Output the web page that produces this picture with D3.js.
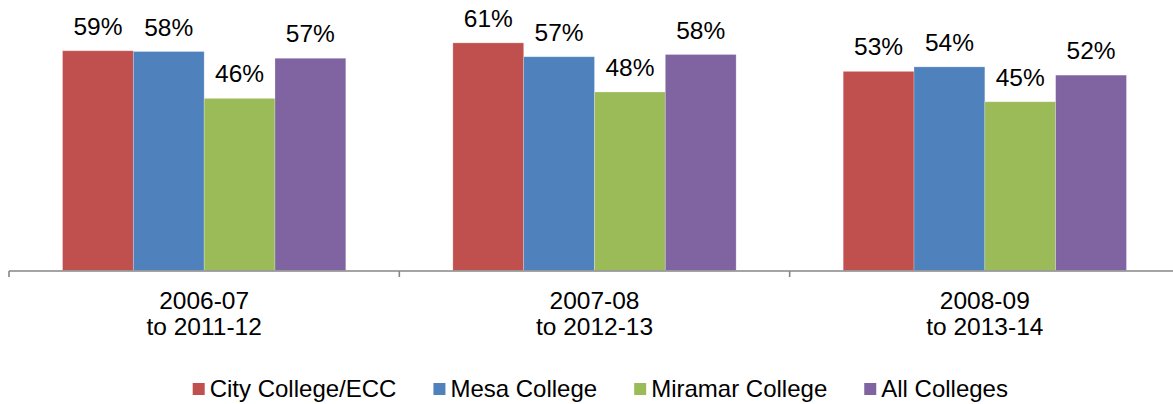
<!DOCTYPE html>
<html>
<head>
<meta charset="utf-8">
<script src="https://cdn.jsdelivr.net/npm/d3@7"></script>
<style>
  body { margin: 0; background: #fff; }
  svg { display: block; font-family: "Liberation Sans", Arial, sans-serif; }
</style>
</head>
<body>
<div id="chart"></div>
<script>
// data
var categories = ["2006-07|to 2011-12", "2007-08|to 2012-13", "2008-09|to 2013-14"];
var seriesNames = ["City College/ECC", "Mesa College", "Miramar College", "All Colleges"];
var cityValues = [0.586, 0.607, 0.531];
var mesaValues = [0.584, 0.570, 0.543];
var miramarValues = [0.459, 0.476, 0.450];
var allValues = [0.566, 0.576, 0.521];
var colors = ["#C0504D", "#4F81BD", "#9BBB59", "#8064A2"];

var values = [cityValues, mesaValues, miramarValues, allValues];

var width = 1173, height = 404;
var svg = d3.select("#chart").append("svg")
    .attr("width", width)
    .attr("height", height);

var baseY = 270.5;

var x0 = d3.scaleBand()
    .domain(categories)
    .range([9, 1180])
    .padding(0);

var x1 = d3.scaleBand()
    .domain(seriesNames)
    .range([0, x0.bandwidth()])
    .paddingInner(0)
    .paddingOuter(0.756);

var y = d3.scaleLinear()
    .domain([0, 1])
    .range([baseY, baseY - 375]);

// flatten into rows for drawing
var rows = [];
categories.forEach(function (c, i) {
    seriesNames.forEach(function (s, j) {
        rows.push({ cat: c, series: s, value: values[j][i], color: colors[j] });
    });
});

svg.selectAll("rect.bar")
    .data(rows)
    .enter()
    .append("rect")
    .attr("class", "bar")
    .attr("x", function (d) { return x0(d.cat) + x1(d.series); })
    .attr("y", function (d) { return y(d.value); })
    .attr("width", x1.bandwidth())
    .attr("height", function (d) { return baseY - y(d.value); })
    .attr("fill", function (d) { return d.color; })
    .attr("stroke", "#fff")
    .attr("stroke-opacity", 0.3)
    .attr("stroke-width", 0.8);

svg.selectAll("text.lbl")
    .data(rows)
    .enter()
    .append("text")
    .attr("class", "lbl")
    .attr("x", function (d) { return x0(d.cat) + x1(d.series) + x1.bandwidth() / 2; })
    .attr("y", function (d) { return y(d.value) - 16; })
    .attr("text-anchor", "middle")
    .attr("font-size", 24.5)
    .attr("fill", "#000")
    .text(function (d) { return d3.format(".0%")(d.value); });

// x axis
var xAxis = svg.append("g");
xAxis.append("line")
    .attr("x1", 9).attr("x2", width)
    .attr("y1", 271).attr("y2", 271)
    .attr("stroke", "#868686")
    .attr("stroke-width", 1.6);

var tickXs = categories.map(function (c) { return x0(c); }).concat([x0.range()[1]]);
xAxis.selectAll("line.tick")
    .data(tickXs)
    .enter()
    .append("line")
    .attr("class", "tick")
    .attr("x1", function (d) { return d; })
    .attr("x2", function (d) { return d; })
    .attr("y1", 271)
    .attr("y2", 277)
    .attr("stroke", "#868686")
    .attr("stroke-width", 1.6);

var catLabels = xAxis.selectAll("text.cat")
    .data(categories)
    .enter()
    .append("text")
    .attr("class", "cat")
    .attr("text-anchor", "middle")
    .attr("font-size", 24.5)
    .attr("fill", "#000");

catLabels.each(function (c) {
    var lines = c.split("|");
    var t = d3.select(this);
    lines.forEach(function (l, k) {
        t.append("tspan")
            .attr("x", x0(c) + x0.bandwidth() / 2)
            .attr("y", 308.5 + k * 26)
            .text(l);
    });
});

// legend
var legend = svg.append("g");
var lx = 192.7;
seriesNames.forEach(function (s, j) {
    legend.append("rect")
        .attr("x", lx).attr("y", 383)
        .attr("width", 12).attr("height", 12)
        .attr("fill", colors[j]);
    var t = legend.append("text")
        .attr("x", lx + 17)
        .attr("y", 396.5)
        .attr("font-size", 24)
        .attr("fill", "#000")
        .text(s);
    lx += 17 + t.node().getComputedTextLength() + 37;
});
</script>
</body>
</html>
